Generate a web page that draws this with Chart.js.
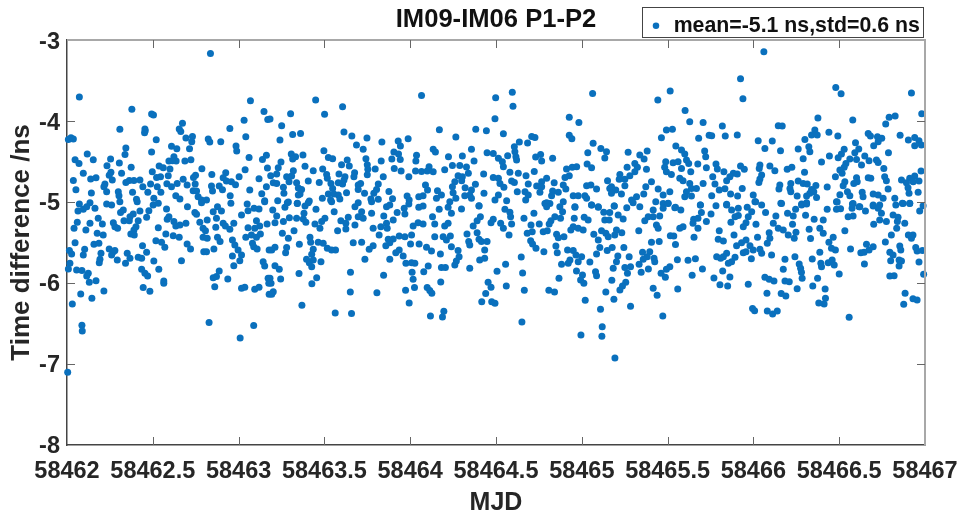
<!DOCTYPE html>
<html>
<head>
<meta charset="utf-8">
<title>IM09-IM06 P1-P2</title>
<script src="https://cdn.jsdelivr.net/npm/chart.js@4"></script>
<style>
  html, body { margin: 0; padding: 0; background: #fff; }
  canvas { display: block; }
</style>
</head>
<body>
<canvas id="chart" width="963" height="518"></canvas>
<script>
// values as [days after mjdStart, time difference in ns]
const mjdStart = 58462;
const xTicks = [58462, 58462.5, 58463, 58463.5, 58464, 58464.5, 58465, 58465.5, 58466, 58466.5, 58467];
const yTicks = [-8, -7, -6, -5, -4, -3];
const titleText = 'IM09-IM06 P1-P2';
const legendText = 'mean=-5.1 ns,std=0.6 ns';

const day1Upper = [[.836,-3.165],[.072,-3.704],[.378,-3.856],[.493,-3.914],[.504,-3.926],[.673,-4.029],[.308,-4.103],[.454,-4.099],[.456,-4.12],[.452,-4.144],[.654,-4.099],[.663,-4.128],[.949,-4.091],[1.032,-3.992],[1.069,-3.749],[1.148,-3.881],[1.17,-3.98],[1.042,-4.194],[.008,-4.227],[.023,-4.206],[.037,-4.223],[.52,-4.231],[.693,-4.21],[.731,-4.19],[.727,-4.255],[.823,-4.223],[.832,-4.26],[.896,-4.255],[.985,-4.309],[.989,-4.371],[.343,-4.334],[.338,-4.412],[.493,-4.383],[.609,-4.313],[.64,-4.342],[.714,-4.342],[.118,-4.408],[.047,-4.478],[.07,-4.523],[.153,-4.478],[.254,-4.47],[.305,-4.519],[.233,-4.552],[.374,-4.572],[1.061,-4.449],[1.139,-4.474],[1.162,-4.424],[1.168,-4.581],[1.038,-4.601],[.623,-4.441],[.594,-4.494],[.636,-4.494],[.615,-4.49],[.687,-4.494],[.722,-4.478],[.537,-4.556],[.561,-4.576],[.6,-4.593],[.497,-4.626],[.095,-4.646],[.256,-4.634],[.246,-4.671],[.264,-4.729],[.318,-4.646],[.59,-4.675],[.786,-4.589],[.749,-4.671],[.737,-4.696],[.844,-4.659],[.925,-4.638],[.91,-4.7],[.929,-4.741],[.958,-4.749],[.982,-4.786],[1.003,-4.688],[1.119,-4.712],[.037,-4.733],[.138,-4.716],[.169,-4.7],[.363,-4.733],[.343,-4.758],[.39,-4.733],[.425,-4.729],[.522,-4.696],[.545,-4.688],[.677,-4.72],[.487,-4.778],[.221,-4.778],[.215,-4.811],[.231,-4.873],[.052,-4.848],[.142,-4.889],[.382,-4.881],[.299,-4.873],[.303,-4.922],[.442,-4.811],[.471,-4.881],[.526,-4.811],[.547,-4.881],[.582,-4.774],[.609,-4.811],[.642,-4.77],[.634,-4.922],[.658,-4.963],[.7,-4.79],[.747,-4.778],[.735,-4.861],[.755,-4.865],[.842,-4.803],[.848,-4.865],[.887,-4.803],[.906,-4.848],[.951,-4.922],[1.065,-4.852],[1.135,-4.898],[1.162,-4.811],[.764,-4.935],[.784,-4.976],[.813,-4.976],[.405,-4.967],[.506,-4.955],[1.152,-4.984]];

const day1Lower = [[.072,-5.024],[.095,-5.09],[.064,-5.111],[.134,-5.008],[.163,-5.078],[.115,-5.057],[.231,-5.024],[.26,-5.037],[.308,-4.996],[.328,-5.098],[.312,-5.131],[.409,-4.996],[.425,-5.111],[.477,-5.107],[.502,-5.037],[.532,-5.016],[.58,-5.086],[.594,-5.181],[.584,-5.214],[.702,-5.057],[.745,-5.131],[.755,-5.152],[.784,-5.008],[.852,-5.119],[.877,-5.057],[.9,-5.111],[.871,-5.201],[.955,-5.016],[1.017,-5.16],[1.05,-5.024],[1.055,-5.107],[1.09,-5.078],[1.119,-5.086],[1.152,-4.996],[.182,-5.201],[.206,-5.271],[.06,-5.251],[.041,-5.325],[.11,-5.345],[.134,-5.263],[.27,-5.255],[.279,-5.304],[.295,-5.325],[.332,-5.23],[.363,-5.23],[.386,-5.148],[.367,-5.181],[.415,-5.23],[.402,-5.304],[.39,-5.345],[.464,-5.189],[.532,-5.317],[.623,-5.242],[.634,-5.296],[.658,-5.284],[.693,-5.263],[.774,-5.251],[.793,-5.325],[.807,-5.354],[.817,-5.222],[.867,-5.312],[.91,-5.263],[.923,-5.296],[.949,-5.337],[.972,-5.263],[1.055,-5.317],[1.104,-5.23],[1.123,-5.296],[1.166,-5.271],[1.094,-5.325],[.176,-5.387],[.211,-5.407],[.372,-5.395],[.392,-5.407],[.576,-5.395],[.619,-5.415],[.654,-5.436],[.793,-5.436],[.817,-5.448],[.877,-5.436],[.892,-5.489],[.964,-5.469],[.978,-5.53],[1.042,-5.436],[1.075,-5.407],[1.104,-5.436],[1.127,-5.395],[.047,-5.502],[.157,-5.522],[.186,-5.51],[.518,-5.477],[.551,-5.498],[.57,-5.559],[.44,-5.539],[.464,-5.621],[.7,-5.518],[.72,-5.58],[1.081,-5.51],[1.088,-5.551],[1.108,-5.58],[.856,-5.58],[.014,-5.6],[.027,-5.642],[.103,-5.584],[.095,-5.654],[.246,-5.58],[.27,-5.613],[.26,-5.654],[.279,-5.6],[.351,-5.633],[.367,-5.695],[.415,-5.683],[.435,-5.695],[.797,-5.613],[.813,-5.613],[.198,-5.633],[.192,-5.707],[.188,-5.749],[.293,-5.716],[.341,-5.757],[.506,-5.728],[.667,-5.724],[.964,-5.666],[.997,-5.592],[1.017,-5.654],[1.007,-5.724],[.972,-5.786],[1.143,-5.736],[1.152,-5.79],[1.178,-5.592],[.017,-5.757],[.008,-5.827],[.056,-5.839],[.087,-5.847],[.124,-5.88],[.115,-5.913],[.13,-5.991],[.169,-5.971],[.435,-5.831],[.454,-5.88],[.47,-5.913],[.535,-5.831],[.564,-5.975],[.564,-6.004],[.852,-5.934],[.871,-5.921],[.887,-5.851],[.937,-5.95],[.861,-6.045],[1.172,-5.942],[1.176,-6.004],[1.017,-6.065],[1.036,-6.053],[1.094,-6.078],[1.119,-6.053],[.444,-6.057],[.483,-6.102],[.215,-6.098],[.08,-6.135],[.145,-6.189],[.031,-6.259],[1.178,-6.139],[.087,-6.522],[.089,-6.592],[.828,-6.489],[1.088,-6.526],[1.009,-6.679],[.004,-7.102]];

const day2Upper = [[1.449,-3.741],[1.606,-3.823],[1.501,-3.918],[1.303,-3.91],[1.183,-3.976],[1.251,-4.058],[2.066,-3.684],[1.614,-4.136],[1.66,-4.186],[1.315,-4.165],[1.361,-4.153],[1.241,-4.235],[1.748,-4.21],[1.835,-4.26],[1.93,-4.247],[1.943,-4.309],[1.988,-4.218],[2.17,-4.107],[2.266,-4.198],[2.382,-4.103],[2.444,-4.12],[1.687,-4.297],[1.726,-4.35],[1.497,-4.367],[2.134,-4.35],[2.147,-4.383],[2.357,-4.35],[2.448,-4.391],[1.307,-4.408],[1.332,-4.441],[1.315,-4.47],[1.375,-4.42],[1.523,-4.449],[1.548,-4.465],[1.905,-4.383],[1.932,-4.408],[1.893,-4.47],[1.942,-4.474],[2.037,-4.424],[2.033,-4.494],[2.223,-4.441],[2.304,-4.432],[2.372,-4.494],[1.633,-4.482],[1.6,-4.539],[1.645,-4.556],[1.742,-4.465],[1.75,-4.539],[1.753,-4.597],[1.831,-4.494],[1.247,-4.507],[1.231,-4.577],[1.222,-4.655],[1.387,-4.56],[1.907,-4.585],[1.947,-4.618],[1.49,-4.593],[1.435,-4.614],[1.319,-4.614],[1.796,-4.593],[1.75,-4.663],[1.676,-4.638],[1.672,-4.688],[2.031,-4.618],[2.066,-4.622],[2.11,-4.564],[2.099,-4.618],[2.134,-4.626],[2.201,-4.601],[2.246,-4.548],[2.289,-4.548],[2.328,-4.568],[2.339,-4.646],[2.428,-4.655],[1.513,-4.659],[1.517,-4.708],[1.585,-4.655],[1.62,-4.688],[1.614,-4.729],[1.581,-4.762],[1.606,-4.778],[1.843,-4.688],[1.992,-4.688],[2.279,-4.675],[2.304,-4.688],[2.3,-4.737],[1.28,-4.688],[1.294,-4.749],[1.309,-4.679],[1.406,-4.741],[1.47,-4.758],[1.187,-4.675],[1.202,-4.762],[1.222,-4.77],[1.338,-4.762],[1.348,-4.828],[1.367,-4.844],[1.538,-4.77],[1.548,-4.832],[1.697,-4.791],[1.711,-4.77],[1.697,-4.844],[1.814,-4.778],[1.804,-4.844],[1.788,-4.893],[2.089,-4.791],[2.101,-4.852],[2.26,-4.749],[2.246,-4.811],[2.25,-4.885],[2.32,-4.823],[2.38,-4.782],[2.357,-4.852],[2.347,-4.914],[1.261,-4.819],[1.264,-4.893],[1.876,-4.869],[2.43,-4.893],[1.348,-4.914],[1.358,-4.901],[1.523,-4.901],[1.488,-4.955],[1.555,-4.901],[1.581,-4.914],[1.536,-4.976],[1.59,-4.963],[1.629,-4.885],[1.734,-4.893],[1.771,-4.963],[1.814,-4.967],[1.897,-4.959],[1.982,-4.926],[1.994,-4.976],[2.05,-4.935],[2.075,-4.922],[2.159,-4.861],[2.182,-4.914],[2.153,-4.955],[2.231,-4.996],[2.266,-4.955],[2.318,-4.922],[2.357,-4.955],[2.401,-5.045],[1.228,-4.984],[1.29,-5.0],[1.342,-5.017],[1.412,-4.988]];

const day2Lower = [[1.199,-5.098],[1.27,-5.066],[1.284,-5.008],[1.342,-5.016],[1.406,-5.008],[1.387,-5.049],[1.381,-5.14],[1.451,-5.09],[1.542,-4.996],[1.557,-5.119],[1.678,-5.057],[1.697,-5.008],[1.717,-5.119],[1.697,-5.181],[1.726,-5.201],[1.775,-5.14],[1.775,-4.996],[1.862,-5.057],[1.881,-5.037],[1.846,-5.172],[1.965,-5.078],[1.969,-5.148],[1.992,-5.024],[2.05,-5.066],[2.075,-5.049],[2.169,-5.09],[2.221,-5.066],[2.24,-5.14],[2.299,-5.086],[2.401,-5.049],[2.13,-5.181],[2.143,-5.271],[2.409,-5.181],[2.39,-5.23],[2.367,-5.296],[1.222,-5.172],[1.212,-5.255],[1.261,-5.242],[1.296,-5.193],[1.338,-5.201],[1.377,-5.21],[1.392,-5.251],[1.503,-5.201],[1.484,-5.242],[1.445,-5.271],[1.474,-5.325],[1.596,-5.23],[1.639,-5.189],[1.625,-5.263],[1.678,-5.284],[1.924,-5.131],[1.901,-5.222],[1.862,-5.263],[1.829,-5.304],[1.784,-5.325],[1.866,-5.325],[2.017,-5.296],[2.046,-5.255],[2.075,-5.271],[2.201,-5.296],[2.221,-5.263],[1.323,-5.354],[1.255,-5.386],[1.29,-5.448],[1.577,-5.354],[1.625,-5.333],[1.819,-5.407],[1.936,-5.419],[1.969,-5.428],[2.008,-5.407],[2.143,-5.428],[2.192,-5.428],[2.211,-5.469],[2.234,-5.419],[2.331,-5.395],[2.341,-5.489],[2.347,-5.53],[2.39,-5.378],[2.401,-5.461],[2.415,-5.489],[2.448,-5.489],[1.416,-5.436],[1.42,-5.498],[1.464,-5.498],[1.493,-5.51],[1.517,-5.572],[1.565,-5.592],[1.542,-5.592],[1.872,-5.461],[1.901,-5.456],[1.881,-5.502],[1.858,-5.539],[2.002,-5.518],[2.052,-5.518],[2.095,-5.559],[2.124,-5.605],[1.668,-5.502],[1.717,-5.498],[1.784,-5.539],[1.761,-5.584],[1.354,-5.522],[1.212,-5.559],[1.193,-5.592],[1.28,-5.563],[1.274,-5.625],[1.435,-5.584],[2.24,-5.551],[2.434,-5.592],[1.936,-5.592],[1.916,-5.625],[1.959,-5.666],[2.176,-5.642],[2.279,-5.6],[2.285,-5.675],[2.269,-5.728],[2.26,-5.777],[1.426,-5.646],[1.396,-5.707],[1.412,-5.749],[1.435,-5.716],[1.48,-5.736],[1.426,-5.798],[1.736,-5.707],[1.881,-5.707],[1.975,-5.757],[2.008,-5.749],[2.027,-5.757],[2.405,-5.716],[2.434,-5.695],[1.212,-5.786],[1.237,-5.831],[2.105,-5.79],[2.079,-5.86],[2.182,-5.81],[2.205,-5.81],[2.347,-5.819],[1.352,-5.884],[1.652,-5.868],[1.845,-5.905],[2.011,-5.868],[2.017,-5.954],[1.245,-5.95],[1.455,-5.934],[1.427,-6.008],[1.183,-5.942],[1.189,-6.004],[2.178,-5.987],[2.454,-5.991],[1.651,-6.111],[1.806,-6.119],[1.202,-6.107],[1.193,-6.14],[1.973,-6.09],[2.025,-6.057],[2.099,-6.057],[2.114,-6.094],[2.126,-6.127],[2.44,-6.131],[2.417,-6.23],[1.994,-6.247],[1.369,-6.275],[1.563,-6.37],[1.658,-6.378],[2.118,-6.407],[2.188,-6.419],[2.196,-6.349]];

const day3Upper = [[2.595,-3.646],[2.498,-3.712],[2.599,-3.819],[2.494,-3.972],[3.063,-3.659],[2.927,-3.955],[2.983,-4.017],[3.443,-3.741],[3.515,-3.63],[3.602,-3.869],[3.629,-4.009],[3.707,-4.017],[2.543,-4.157],[2.708,-4.19],[2.727,-4.202],[2.927,-4.177],[2.942,-4.218],[3.493,-4.111],[3.528,-4.103],[3.464,-4.206],[3.681,-4.214],[3.742,-4.177],[2.636,-4.26],[2.684,-4.272],[2.607,-4.317],[2.61,-4.379],[3.066,-4.276],[3.111,-4.338],[3.144,-4.379],[3.134,-4.457],[3.035,-4.391],[3.27,-4.387],[3.381,-4.371],[3.338,-4.42],[3.363,-4.47],[3.548,-4.309],[3.581,-4.358],[3.6,-4.408],[3.716,-4.371],[3.722,-4.441],[2.484,-4.4],[2.568,-4.428],[2.514,-4.461],[2.537,-4.502],[2.543,-4.564],[2.616,-4.441],[2.62,-4.482],[2.731,-4.445],[2.76,-4.412],[2.766,-4.494],[2.83,-4.461],[3.031,-4.531],[3.057,-4.577],[3.489,-4.502],[3.483,-4.572],[3.493,-4.626],[3.522,-4.659],[3.532,-4.515],[3.561,-4.502],[3.61,-4.482],[3.623,-4.523],[3.581,-4.585],[3.635,-4.626],[3.676,-4.531],[3.726,-4.577],[3.264,-4.572],[3.309,-4.523],[3.324,-4.572],[3.309,-4.626],[3.28,-4.675],[3.377,-4.597],[2.911,-4.593],[2.944,-4.572],[2.97,-4.564],[2.581,-4.634],[2.63,-4.646],[2.675,-4.675],[2.723,-4.622],[2.484,-4.696],[2.514,-4.708],[2.523,-4.77],[2.546,-4.819],[2.591,-4.741],[2.607,-4.758],[2.927,-4.675],[2.902,-4.696],[3.222,-4.659],[3.218,-4.72],[3.251,-4.72],[2.795,-4.708],[2.766,-4.749],[2.737,-4.803],[2.766,-4.811],[2.839,-4.762],[2.688,-4.778],[3.15,-4.737],[3.173,-4.811],[3.251,-4.799],[3.406,-4.749],[3.571,-4.708],[3.59,-4.737],[3.629,-4.77],[3.639,-4.832],[3.61,-4.873],[3.707,-4.77],[3.668,-4.832],[2.892,-4.791],[2.907,-4.84],[3.028,-4.799],[3.053,-4.79],[3.086,-4.84],[3.373,-4.811],[3.445,-4.84],[3.474,-4.914],[3.513,-4.873],[3.163,-4.832],[3.198,-4.852],[3.173,-4.893],[3.231,-4.901],[2.624,-4.873],[2.669,-4.873],[2.688,-4.914],[2.673,-4.976],[2.756,-4.881],[2.83,-4.865],[2.863,-4.881],[2.824,-4.922],[2.95,-4.922],[2.979,-4.922],[3.018,-4.922],[3.028,-4.955],[2.514,-4.914],[2.494,-4.976],[2.562,-4.984],[3.319,-4.935],[3.361,-4.901],[3.29,-4.976],[3.431,-4.996],[3.6,-4.935],[3.639,-4.926],[3.691,-5.037],[2.785,-5.017],[2.814,-5.017],[2.892,-4.996],[2.96,-5.058],[3.057,-5.037],[3.096,-5.058],[3.189,-5.05],[3.474,-5.017],[3.503,-5.017],[3.542,-5.07]];

const day3Lower = [[2.795,-5.008],[2.795,-5.057],[2.96,-5.066],[2.872,-5.057],[2.888,-5.119],[2.552,-5.09],[2.581,-5.127],[2.585,-5.181],[2.721,-5.14],[2.663,-5.201],[2.484,-5.214],[2.471,-5.255],[2.527,-5.263],[2.543,-5.325],[2.591,-5.271],[2.576,-5.407],[2.843,-5.181],[2.876,-5.201],[2.82,-5.23],[2.81,-5.271],[2.752,-5.271],[2.704,-5.284],[2.711,-5.366],[2.682,-5.386],[2.956,-5.201],[3.014,-5.189],[3.037,-5.222],[3.057,-5.037],[3.096,-5.066],[3.128,-5.127],[3.163,-5.131],[3.134,-5.222],[3.16,-5.222],[3.189,-5.049],[3.212,-5.16],[3.241,-5.21],[3.262,-5.07],[3.299,-5.008],[3.338,-5.057],[3.416,-5.098],[3.387,-5.181],[3.367,-5.23],[3.416,-5.181],[3.474,-5.078],[3.503,-5.016],[3.454,-5.172],[3.546,-5.066],[3.577,-5.098],[3.691,-5.037],[3.697,-5.131],[3.652,-5.214],[3.677,-5.201],[3.726,-5.242],[3.648,-5.263],[3.677,-5.325],[3.435,-5.284],[3.445,-5.325],[3.332,-5.354],[3.571,-5.325],[3.59,-5.304],[2.95,-5.304],[2.979,-5.325],[3.008,-5.345],[2.936,-5.345],[2.775,-5.366],[2.799,-5.354],[2.853,-5.399],[2.863,-5.44],[2.896,-5.428],[3.07,-5.399],[3.096,-5.469],[3.115,-5.354],[3.14,-5.386],[3.154,-5.428],[3.202,-5.345],[3.192,-5.407],[3.233,-5.378],[3.516,-5.415],[3.536,-5.419],[3.654,-5.436],[3.406,-5.498],[3.451,-5.489],[3.546,-5.526],[2.702,-5.477],[2.713,-5.518],[2.733,-5.572],[2.779,-5.613],[2.849,-5.543],[2.857,-5.625],[2.917,-5.592],[2.95,-5.6],[2.966,-5.654],[2.999,-5.675],[3.105,-5.563],[3.148,-5.6],[3.177,-5.563],[3.086,-5.642],[3.245,-5.563],[3.354,-5.621],[3.396,-5.613],[3.381,-5.675],[3.358,-5.707],[3.276,-5.675],[3.21,-5.666],[3.202,-5.736],[2.647,-5.679],[2.979,-5.736],[2.931,-5.716],[2.921,-5.757],[2.882,-5.769],[3.047,-5.74],[3.421,-5.695],[3.425,-5.736],[3.557,-5.712],[3.619,-5.72],[3.662,-5.699],[2.556,-5.769],[3.334,-5.769],[3.183,-5.819],[3.251,-5.81],[3.284,-5.798],[3.266,-5.88],[3.388,-5.827],[3.346,-5.868],[3.513,-5.798],[3.493,-5.831],[3.462,-5.88],[3.487,-5.93],[3.703,-5.827],[3.643,-5.905],[2.506,-5.856],[2.655,-5.876],[2.969,-5.851],[3.004,-5.901],[3.08,-5.86],[3.086,-5.909],[2.867,-5.942],[2.993,-5.963],[3.012,-6.004],[3.175,-5.967],[3.256,-5.991],[3.237,-6.037],[3.222,-6.086],[2.56,-6.037],[2.471,-6.053],[2.665,-6.09],[2.808,-6.09],[2.841,-6.111],[3.14,-6.111],[3.416,-6.065],[3.439,-6.152],[3.559,-6.074],[3.187,-6.201],[3.02,-6.214],[2.475,-6.23],[2.494,-6.251],[3.284,-6.288],[3.109,-6.325],[3.472,-6.407],[2.651,-6.481],[3.119,-6.539],[2.995,-6.642],[3.117,-6.658],[3.193,-6.925]];

const day4Upper = [[4.061,-3.144],[3.925,-3.478],[3.939,-3.725],[4.48,-3.585],[4.511,-3.663],[4.921,-3.655],[4.981,-3.91],[4.376,-3.963],[4.579,-3.988],[4.791,-3.955],[4.826,-3.939],[4.771,-4.037],[3.819,-4.062],[4.145,-4.058],[4.168,-4.062],[3.757,-4.181],[3.836,-4.186],[3.906,-4.173],[4.358,-4.111],[4.339,-4.173],[4.372,-4.173],[4.3,-4.227],[4.44,-4.14],[4.492,-4.186],[4.669,-4.153],[4.682,-4.186],[4.723,-4.194],[4.748,-4.214],[4.727,-4.255],[4.701,-4.305],[4.855,-4.177],[4.903,-4.235],[4.94,-4.202],[4.965,-4.243],[4.94,-4.305],[4.979,-4.297],[4.028,-4.243],[4.11,-4.247],[4.595,-4.268],[4.067,-4.338],[4.158,-4.367],[4.261,-4.346],[4.323,-4.317],[4.329,-4.379],[4.529,-4.35],[4.513,-4.408],[4.494,-4.453],[4.614,-4.346],[4.591,-4.391],[4.787,-4.391],[4.443,-4.432],[4.397,-4.507],[4.29,-4.465],[4.562,-4.47],[4.539,-4.523],[4.529,-4.572],[4.504,-4.605],[4.517,-4.646],[4.649,-4.432],[4.601,-4.474],[4.63,-4.544],[4.674,-4.49],[4.717,-4.482],[4.727,-4.511],[4.76,-4.585],[3.782,-4.531],[3.79,-4.593],[3.828,-4.626],[3.925,-4.556],[3.947,-4.597],[4.038,-4.544],[4.034,-4.585],[4.096,-4.556],[4.125,-4.614],[4.197,-4.597],[4.224,-4.572],[4.298,-4.634],[4.478,-4.688],[4.977,-4.618],[4.94,-4.679],[4.911,-4.708],[3.906,-4.655],[3.883,-4.646],[3.863,-4.688],[3.844,-4.737],[4.048,-4.667],[4.038,-4.716],[4.032,-4.758],[3.763,-4.688],[3.776,-4.778],[4.601,-4.7],[4.605,-4.749],[4.585,-4.77],[4.669,-4.7],[4.684,-4.708],[4.765,-4.688],[4.775,-4.737],[4.785,-4.84],[4.863,-4.729],[4.892,-4.762],[4.931,-4.749],[4.965,-4.741],[4.261,-4.741],[4.29,-4.77],[4.314,-4.778],[4.533,-4.749],[4.523,-4.799],[4.154,-4.791],[4.149,-4.84],[4.218,-4.77],[4.213,-4.832],[4.218,-4.873],[4.364,-4.795],[4.339,-4.844],[4.329,-4.893],[4.352,-4.873],[4.43,-4.815],[3.935,-4.832],[3.834,-4.836],[3.801,-4.852],[4.901,-4.823],[4.907,-4.893],[4.96,-4.881],[4.548,-4.873],[4.562,-4.922],[4.504,-4.91],[4.634,-4.881],[4.639,-4.935],[4.698,-4.901],[4.727,-4.914],[4.756,-4.955],[3.867,-4.901],[3.908,-4.926],[3.757,-4.922],[3.999,-4.914],[4.013,-4.996],[4.255,-4.926],[4.368,-4.943],[4.31,-4.926],[4.824,-4.955],[4.488,-5.0],[3.844,-5.029],[4.164,-5.017],[4.31,-5.025],[4.281,-5.025],[4.581,-5.017],[4.62,-5.058],[4.698,-5.037],[4.736,-5.037],[4.872,-5.017],[4.911,-5.017],[4.989,-5.045]];

const day4Lower = [[3.782,-5.045],[3.844,-5.037],[3.873,-5.098],[3.912,-5.078],[4.009,-4.996],[3.964,-5.066],[3.99,-5.119],[4.048,-5.037],[4.071,-5.131],[4.16,-5.016],[3.753,-5.148],[3.912,-5.168],[3.893,-5.181],[3.869,-5.251],[3.97,-5.181],[3.957,-5.255],[3.941,-5.304],[4.015,-5.275],[4.131,-5.172],[4.116,-5.263],[4.145,-5.325],[4.174,-5.345],[4.199,-5.14],[4.232,-5.172],[4.246,-5.09],[4.228,-5.275],[4.248,-5.374],[4.203,-5.407],[4.238,-5.448],[4.304,-5.164],[4.281,-5.037],[4.31,-5.008],[4.354,-5.214],[4.325,-5.337],[4.333,-5.452],[4.407,-5.222],[4.387,-5.325],[4.407,-5.387],[4.43,-5.09],[4.484,-5.09],[4.508,-5.082],[4.484,-4.996],[4.552,-5.181],[4.581,-5.172],[4.575,-5.078],[4.577,-5.024],[4.616,-5.057],[4.653,-5.111],[4.698,-5.049],[4.727,-5.078],[4.746,-5.14],[4.736,-5.222],[4.775,-5.242],[4.701,-5.275],[4.814,-5.16],[4.843,-5.189],[4.839,-5.242],[4.83,-5.037],[4.868,-5.016],[4.911,-5.016],[4.969,-5.111],[4.882,-5.263],[4.835,-5.325],[4.533,-5.354],[4.804,-5.407],[4.769,-5.493],[4.903,-5.407],[4.93,-5.407],[4.921,-5.448],[3.801,-5.354],[3.887,-5.407],[4.024,-5.436],[4.092,-5.378],[4.096,-5.448],[4.081,-5.51],[3.795,-5.461],[3.825,-5.481],[3.902,-5.539],[3.931,-5.502],[3.957,-5.469],[3.98,-5.539],[3.999,-5.592],[4.038,-5.584],[4.048,-5.633],[4.465,-5.436],[4.44,-5.498],[4.455,-5.572],[4.478,-5.592],[4.387,-5.621],[4.566,-5.58],[4.659,-5.522],[4.674,-5.592],[4.698,-5.551],[4.626,-5.625],[4.645,-5.621],[4.853,-5.543],[4.859,-5.592],[4.946,-5.563],[4.954,-5.604],[4.985,-5.6],[4.795,-5.621],[4.814,-5.654],[3.941,-5.625],[3.957,-5.613],[3.844,-5.633],[3.825,-5.675],[3.786,-5.675],[3.809,-5.695],[3.893,-5.683],[3.873,-5.736],[3.854,-5.757],[3.988,-5.699],[4.106,-5.654],[4.242,-5.675],[4.184,-5.707],[4.343,-5.703],[4.267,-5.765],[4.275,-5.819],[4.28,-5.868],[4.174,-5.831],[4.393,-5.757],[4.397,-5.798],[4.436,-5.749],[4.459,-5.716],[4.471,-5.777],[4.5,-5.888],[4.647,-5.765],[4.8,-5.724],[4.849,-5.716],[4.863,-5.728],[4.849,-5.79],[4.965,-5.74],[4.992,-5.893],[4.795,-5.913],[4.82,-5.909],[3.821,-5.851],[3.77,-5.938],[3.863,-5.926],[3.805,-6.02],[3.85,-6.037],[3.97,-6.016],[4.067,-5.93],[4.092,-5.954],[4.12,-5.975],[4.184,-5.975],[4.209,-5.983],[4.284,-5.942],[4.374,-5.942],[4.346,-6.037],[4.255,-6.07],[4.418,-6.074],[4.079,-6.127],[4.162,-6.131],[4.189,-6.16],[4.42,-6.189],[4.412,-6.259],[4.381,-6.247],[4.884,-6.127],[4.93,-6.193],[4.954,-6.209],[4.876,-6.263],[3.995,-6.316],[4.007,-6.341],[4.081,-6.345],[4.112,-6.382],[4.139,-6.345],[4.558,-6.423]];

const allPoints = [].concat(day1Upper, day1Lower, day2Upper, day2Lower, day3Upper, day3Lower, day4Upper, day4Lower);

const fontFamily = '"Liberation Sans", Arial, sans-serif';

// inward ticks, the grey top/right edges and the legend frame, matlab style
const matlabBox = {
    id: 'matlabBox',
    afterLayout(chart) {
        // title is centred over the plot, legend sits in the top right corner
        const a = chart.chartArea;
        chart.titleBlock.left = a.left;
        chart.titleBlock.right = a.right;
        const lg = chart.legend;
        lg.left = 642; lg.right = 923; lg.top = 8; lg.bottom = 38;
    },
    afterDraw(chart) {
        const { ctx, chartArea: a, scales } = chart;
        ctx.save();
        ctx.strokeStyle = '#a8a8a8';
        ctx.lineWidth = 2;
        ctx.beginPath();
        ctx.moveTo(a.left, a.top);
        ctx.lineTo(a.right, a.top);
        ctx.lineTo(a.right, a.bottom);
        ctx.stroke();

        ctx.strokeStyle = '#666';
        ctx.lineWidth = 1;
        ctx.beginPath();
        xTicks.slice(1, -1).forEach(v => {
            const x = Math.round(scales.x.getPixelForValue(v)) + 0.5;
            ctx.moveTo(x, a.bottom); ctx.lineTo(x, a.bottom - 8);
            ctx.moveTo(x, a.top); ctx.lineTo(x, a.top + 8);
        });
        yTicks.slice(1, -1).forEach(v => {
            const y = Math.round(scales.y.getPixelForValue(v)) + 0.5;
            ctx.moveTo(a.left, y); ctx.lineTo(a.left + 8, y);
            ctx.moveTo(a.right, y); ctx.lineTo(a.right - 8, y);
        });
        ctx.stroke();

        ctx.strokeStyle = '#444';
        ctx.lineWidth = 1;
        ctx.strokeRect(642.5, 7.5, 281, 30);
        ctx.restore();
    }
};

new Chart(document.getElementById('chart'), {
    type: 'scatter',
    data: {
        datasets: [{
            label: legendText,
            data: allPoints.map(p => ({ x: mjdStart + p[0], y: p[1] })),
            backgroundColor: '#0a70bd',
            borderColor: '#0a70bd',
            pointRadius: 3.5,
            pointBorderWidth: 0,
            clip: false
        }]
    },
    options: {
        responsive: false,
        animation: false,
        layout: { padding: { right: 38 } },
        plugins: {
            title: {
                display: true,
                text: titleText,
                color: '#111',
                font: { family: fontFamily, size: 25.6, weight: 'bold' },
                padding: { top: 5, bottom: 4.3 }
            },
            legend: {
                position: 'chartArea',
                align: 'start',
                labels: {
                    usePointStyle: true,
                    boxWidth: 14,
                    boxHeight: 4.6,
                    color: '#111',
                    padding: 7,
                    font: { family: fontFamily, size: 21.3, weight: 'bold' }
                }
            },
            tooltip: { enabled: false }
        },
        scales: {
            x: {
                type: 'linear',
                min: 58462,
                max: 58467,
                afterBuildTicks: s => { s.ticks = xTicks.map(v => ({ value: v })); },
                afterFit: s => { s.height = 73; s.paddingLeft = 0; s.paddingRight = 0; },
                grid: { display: false, drawTicks: false },
                border: { color: '#444', width: 1.5 },
                ticks: {
                    autoSkip: false,
                    maxRotation: 0,
                    padding: 12,
                    color: '#262626',
                    font: { family: fontFamily, size: 23.5, weight: 'bold' },
                    callback: v => String(v)
                },
                title: {
                    display: true,
                    text: 'MJD',
                    color: '#262626',
                    font: { family: fontFamily, size: 25, weight: 'bold' },
                    padding: { top: 0, bottom: 0 }
                }
            },
            y: {
                min: -8,
                max: -3,
                afterBuildTicks: s => { s.ticks = yTicks.map(v => ({ value: v })); },
                afterFit: s => { s.width = 67; s.paddingTop = 0; s.paddingBottom = 0; },
                grid: { display: false, drawTicks: false },
                border: { color: '#444', width: 1.5 },
                ticks: {
                    padding: 7,
                    labelOffset: 2,
                    color: '#262626',
                    font: { family: fontFamily, size: 23.5, weight: 'bold' },
                    callback: v => String(v)
                },
                title: {
                    display: true,
                    text: 'Time difference /ns',
                    color: '#262626',
                    font: { family: fontFamily, size: 26, weight: 'bold' },
                    padding: { top: 6, bottom: 0 }
                }
            }
        }
    },
    plugins: [matlabBox]
});
</script>
</body>
</html>
